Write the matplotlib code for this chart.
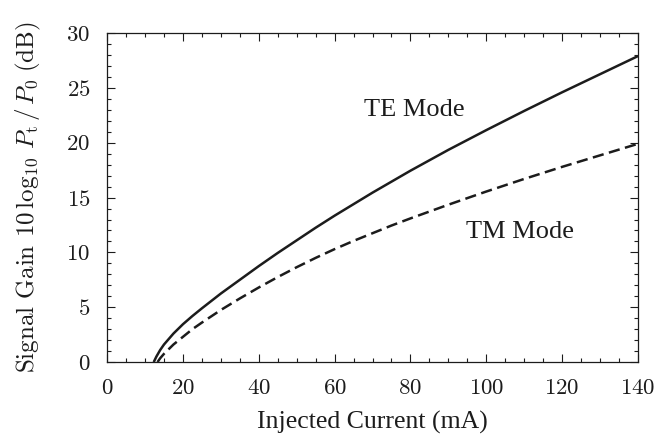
import matplotlib
matplotlib.use("Agg")
import matplotlib.pyplot as plt
from matplotlib.ticker import MultipleLocator

# values
current_te = [12.3, 13, 14, 15, 17.5, 20, 22.5, 25, 30, 35, 40, 45, 50, 55, 60, 65, 70, 75, 80,
              90, 100, 110, 120, 130, 140]
gain_te = [0, 0.5, 1.1, 1.6, 2.6, 3.45, 4.2, 4.9, 6.25, 7.5, 8.75, 9.95, 11.1, 12.25, 13.35, 14.4,
           15.45, 16.45, 17.45, 19.35, 21.15, 22.9, 24.6, 26.25, 27.9]

current_tm = [13.3, 14, 15, 17.5, 20, 22.5, 25, 30, 35, 40, 45, 50, 55, 60, 65, 70, 75, 80,
              90, 100, 110, 120, 130, 140]
gain_tm = [0, 0.35, 0.75, 1.6, 2.3, 3.0, 3.6, 4.75, 5.8, 6.8, 7.75, 8.65, 9.5, 10.3, 11.05, 11.75,
           12.45, 13.1, 14.35, 15.55, 16.7, 17.8, 18.85, 19.9]

xticks = [0, 20, 40, 60, 80, 100, 120, 140]
yticks = [0, 5, 10, 15, 20, 25, 30]

plt.rcParams['mathtext.fontset'] = 'cm'
plt.rcParams['axes.formatter.use_mathtext'] = True

fig = plt.figure(figsize=(6.57, 4.47), dpi=100)
ax = fig.add_axes([0.163, 0.19, 0.808, 0.736])

ink = '#1c1c1c'
ax.plot(current_te, gain_te, color=ink, lw=1.8, solid_capstyle='butt')
ax.plot(current_tm, gain_tm, color=ink, lw=1.8, linestyle=(0, (4.5, 2.2)))

ax.set_xlim(0, 140)
ax.set_ylim(0, 30)
ax.set_xticks(xticks)
ax.set_yticks(yticks)
ax.xaxis.set_minor_locator(MultipleLocator(5))
ax.yaxis.set_minor_locator(MultipleLocator(1))
ax.tick_params(which='both', direction='in', top=True, right=True, colors=ink, width=0.8)
ax.tick_params(which='major', length=6, pad=12)
ax.tick_params(which='minor', length=3)
for lab in ax.get_xticklabels() + ax.get_yticklabels():
    lab.set_family('cmr10')
    lab.set_fontsize(16.5)
    lab.set_color(ink)
for sp in ax.spines.values():
    sp.set_color(ink)
    sp.set_linewidth(0.9)

ax.set_xlabel('Injected Current (mA)', family='Liberation Serif', fontsize=18.5, color=ink, labelpad=9)
ax.set_ylabel(r'Signal Gain $10\,\log_{10}\,P_{\rm t}\,/\,P_0\;$(dB)', family='cmr10', fontsize=18,
              color=ink, labelpad=17)

ax.text(81, 23, 'TE Mode', family='Liberation Serif', fontsize=19, color=ink, ha='center', va='center')
ax.text(109, 11.9, 'TM Mode', family='Liberation Serif', fontsize=19, color=ink, ha='center', va='center')

fig.savefig('out.png', dpi=100)
